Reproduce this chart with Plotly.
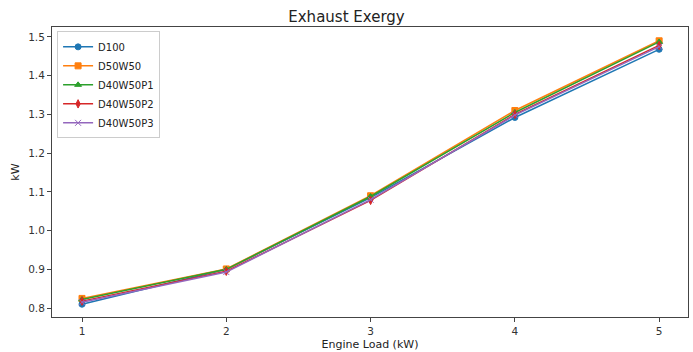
import plotly.graph_objects as go

loads = [1, 2, 3, 4, 5]
d100 = [0.810, 0.900, 1.085, 1.292, 1.468]
d50w50 = [0.825, 0.901, 1.090, 1.310, 1.490]
d40w50p1 = [0.822, 0.900, 1.088, 1.305, 1.487]
d40w50p2 = [0.818, 0.895, 1.078, 1.300, 1.478]
d40w50p3 = [0.815, 0.893, 1.080, 1.298, 1.475]

series = [
    ("D100", d100, "#1f77b4", "circle"),
    ("D50W50", d50w50, "#ff7f0e", "square"),
    ("D40W50P1", d40w50p1, "#2ca02c", "triangle-up"),
    ("D40W50P2", d40w50p2, "#d62728", "diamond-tall"),
    ("D40W50P3", d40w50p3, "#9467bd", "x-thin"),
]

fig = go.Figure()
for name, vals, color, sym in series:
    fig.add_trace(go.Scatter(
        x=loads, y=vals, name=name, mode="lines+markers",
        line=dict(color=color, width=1.5),
        marker=dict(symbol=sym, size=6, color=color,
                    line=dict(color=color, width=1)),
    ))

axis_common = dict(
    showgrid=False, zeroline=False, showline=True, mirror=True,
    linecolor="#444", linewidth=1, ticks="outside", ticklen=4,
    tickcolor="#444", tickfont=dict(family="DejaVu Sans", size=10.5, color="#333"),
)
fig.update_layout(
    width=693, height=352,
    margin=dict(l=52, r=4, t=27, b=32),
    paper_bgcolor="white", plot_bgcolor="white",
    title=dict(text="Exhaust Exergy", x=0.5, xanchor="center", y=0.952,
               yanchor="middle", font=dict(family="DejaVu Sans", size=15, color="#222")),
    xaxis=dict(range=[0.792, 5.2], tickvals=loads,
               title=dict(text="Engine Load (kW)", standoff=4,
                          font=dict(family="DejaVu Sans", size=11, color="#222")),
               **axis_common),
    yaxis=dict(range=[0.777, 1.5256], tickvals=[0.8, 0.9, 1.0, 1.1, 1.2, 1.3, 1.4, 1.5],
               tickformat=".1f",
               title=dict(text="kW", standoff=6,
                          font=dict(family="DejaVu Sans", size=11, color="#222")),
               **axis_common),
    legend=dict(x=0.008, y=0.985, xanchor="left", yanchor="top",
                bordercolor="#ccc", borderwidth=1, bgcolor="rgba(255,255,255,0.8)",
                font=dict(family="DejaVu Sans", size=10, color="#222"),
                tracegroupgap=0, itemwidth=30),
    showlegend=True,
)
fig.write_html("out.html")
